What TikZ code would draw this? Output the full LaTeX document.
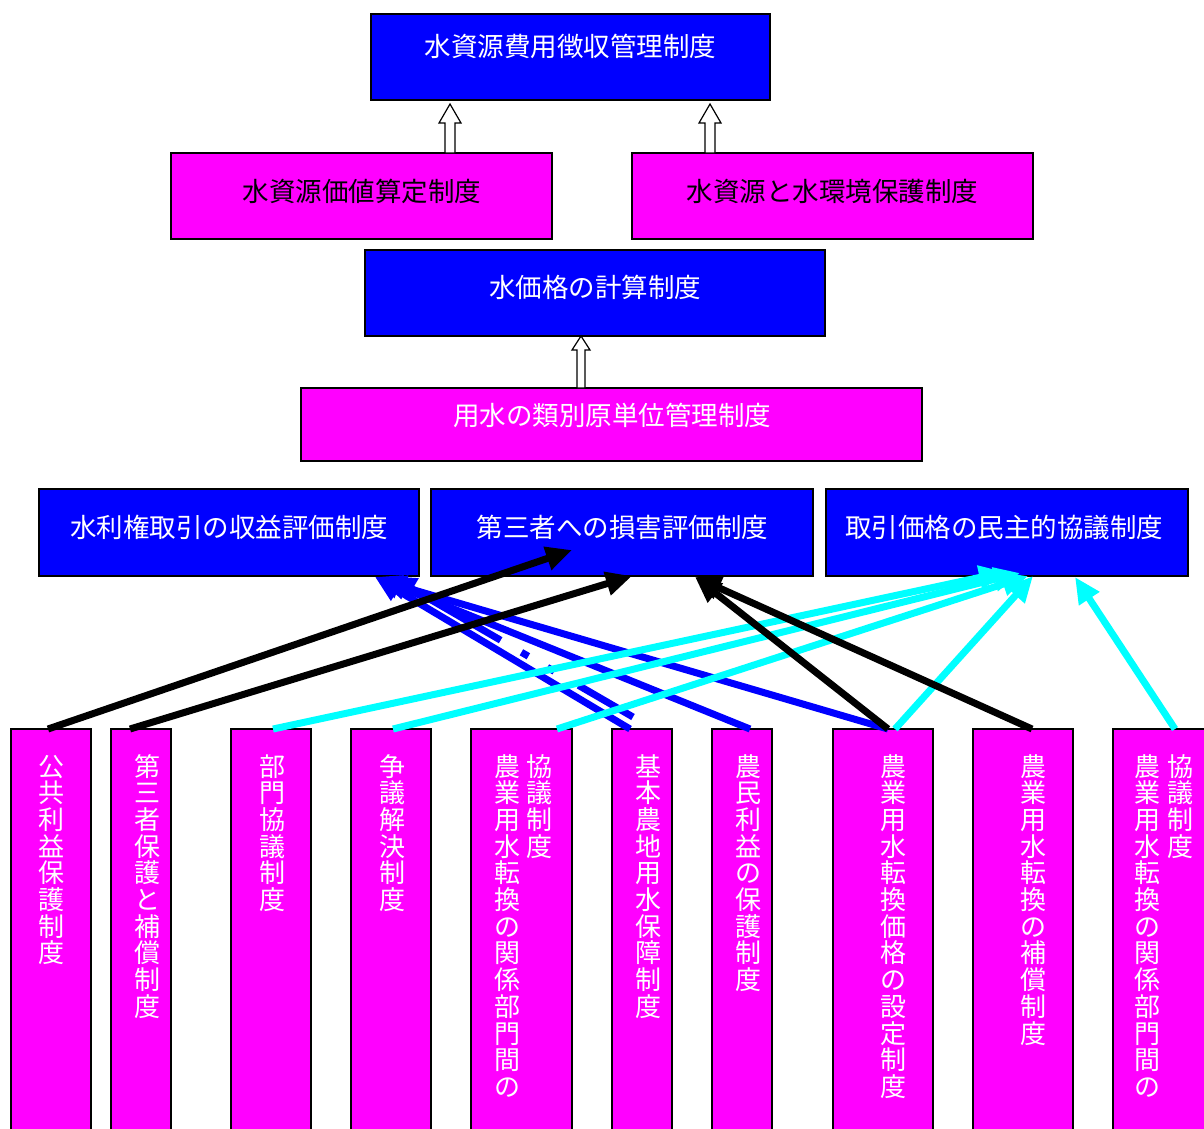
\documentclass[tikz,border=0pt]{standalone}
\usepackage{fontspec}
\newfontfamily\cjk{Noto Sans CJK JP}
\usetikzlibrary{arrows.meta,calc}

\definecolor{boxblue}{RGB}{0,0,255}
\definecolor{boxmag}{RGB}{255,0,255}
\definecolor{linkcyan}{RGB}{0,255,255}

% one column of vertically stacked characters, rows separated by \cr
\newcommand{\vcol}[1]{\vtop{\baselineskip=26.7pt\lineskiplimit=-100pt\lineskip=0pt\halign{\hfil##\hfil\cr#1\crcr}}}

% hollow upward block arrow: start, tip, shaft half width, head half width, head length
\newcommand{\hollowup}[5]{%
  \draw[hollow] let \p1=#1, \p2=#2 in
    (\x1-#3,\y1) -- (\x1-#3,\y2-#5) -- (\x1-#4,\y2-#5) -- (\x1,\y2)
    -- (\x1+#4,\y2-#5) -- (\x1+#3,\y2-#5) -- (\x1+#3,\y1) -- cycle;}

\tikzset{
  boxframe/.style={draw=black, line width=1.3pt, inner sep=0pt, outer sep=0pt, anchor=north west},
  bluebox/.style={boxframe, fill=boxblue},
  magbox/.style={boxframe, fill=boxmag},
  htext/.style={font=\cjk\fontsize{26.5}{30}\selectfont, inner sep=0pt},
  vtext/.style={font=\cjk\fontsize{26}{26.7}\selectfont, text=white, inner sep=0pt, anchor=base},
  link/.style={line width=7pt, -{Triangle[length=26pt,width=23pt]}},
  hollow/.style={draw=black, fill=white, line width=1.2pt, line join=miter},
}

\begin{document}
\begin{tikzpicture}[x=1pt, y=-1pt]
\useasboundingbox (0,0) rectangle (1204,1128);
\fill[white] (0,0) rectangle (1204,1128);
\clip (0,0) rectangle (1204,1128);

% upper hierarchy
\node[bluebox, minimum width=399pt, minimum height=86pt] (A) at (371,14) {};
\node[magbox, minimum width=381pt, minimum height=86pt] (B) at (171,153) {};
\node[magbox, minimum width=401pt, minimum height=86pt] (C) at (632,153) {};
\node[bluebox, minimum width=460pt, minimum height=86pt] (D) at (365,250) {};
\node[magbox, minimum width=621pt, minimum height=73pt] (E) at (301,388) {};

\node[htext, text=white] (At) at ($(A.center)+(0,-10.5)$) {水資源費用徴収管理制度};
\node[htext, text=black] (Bt) at ($(B.center)+(0.5,-5)$) {水資源価値算定制度};
\node[htext, text=black] (Ct) at ($(C.center)+(0,-5)$) {水資源と水環境保護制度};
\node[htext, text=white] (Dt) at ($(D.center)+(0,-5.5)$) {水価格の計算制度};
\node[htext, text=white] (Et) at ($(E.center)+(0.5,-9.5)$) {用水の類別原単位管理制度};

% evaluation and negotiation systems
\node[bluebox, minimum width=380pt, minimum height=87pt] (F) at (39,489) {};
\node[bluebox, minimum width=382pt, minimum height=87pt] (G) at (431,489) {};
\node[bluebox, minimum width=362pt, minimum height=87pt] (H) at (826,489) {};
\node[htext, text=white] (Ft) at ($(F.center)+(0,-5)$) {水利権取引の収益評価制度};
\node[htext, text=white] (Gt) at ($(G.center)+(0.5,-5)$) {第三者への損害評価制度};
\node[htext, text=white] (Ht) at ($(H.center)+(-3,-5)$) {取引価格の民主的協議制度};

% supporting systems (vertical labels)
\node[magbox, minimum width=80pt, minimum height=420pt] (p1) at (11,729) {};
\node[magbox, minimum width=60pt, minimum height=420pt] (p2) at (111,729) {};
\node[magbox, minimum width=80pt, minimum height=420pt] (p3) at (231,729) {};
\node[magbox, minimum width=80pt, minimum height=420pt] (p4) at (351,729) {};
\node[magbox, minimum width=101pt, minimum height=420pt] (p5) at (471,729) {};
\node[magbox, minimum width=60pt, minimum height=420pt] (p6) at (612,729) {};
\node[magbox, minimum width=60pt, minimum height=420pt] (p7) at (712,729) {};
\node[magbox, minimum width=100pt, minimum height=420pt] (p8) at (833,729) {};
\node[magbox, minimum width=100pt, minimum height=420pt] (p9) at (973,729) {};
\node[magbox, minimum width=100pt, minimum height=420pt] (p10) at (1113,729) {};

\node[vtext] (t1) at ($(p1.north west)+(40,47)$) {\vcol{公\cr 共\cr 利\cr 益\cr 保\cr 護\cr 制\cr 度}};
\node[vtext] (t2) at ($(p2.north west)+(36,47)$) {\vcol{第\cr 三\cr 者\cr 保\cr 護\cr と\cr 補\cr 償\cr 制\cr 度}};
\node[vtext] (t3) at ($(p3.north west)+(41,47)$) {\vcol{部\cr 門\cr 協\cr 議\cr 制\cr 度}};
\node[vtext] (t4) at ($(p4.north west)+(41,47)$) {\vcol{争\cr 議\cr 解\cr 決\cr 制\cr 度}};
\node[vtext] (t5) at ($(p5.north west)+(52.5,47)$) {\vcol{農\cr 業\cr 用\cr 水\cr 転\cr 換\cr の\cr 関\cr 係\cr 部\cr 門\cr 間\cr の}\hspace{6.5pt}\vcol{協\cr 議\cr 制\cr 度}};
\node[vtext] (t6) at ($(p6.north west)+(36,47)$) {\vcol{基\cr 本\cr 農\cr 地\cr 用\cr 水\cr 保\cr 障\cr 制\cr 度}};
\node[vtext] (t7) at ($(p7.north west)+(36,47)$) {\vcol{農\cr 民\cr 利\cr 益\cr の\cr 保\cr 護\cr 制\cr 度}};
\node[vtext] (t8) at ($(p8.north west)+(60,47)$) {\vcol{農\cr 業\cr 用\cr 水\cr 転\cr 換\cr 価\cr 格\cr の\cr 設\cr 定\cr 制\cr 度}};
\node[vtext] (t9) at ($(p9.north west)+(60,47)$) {\vcol{農\cr 業\cr 用\cr 水\cr 転\cr 換\cr の\cr 補\cr 償\cr 制\cr 度}};
\node[vtext] (t10) at ($(p10.north west)+(51,47)$) {\vcol{農\cr 業\cr 用\cr 水\cr 転\cr 換\cr の\cr 関\cr 係\cr 部\cr 門\cr 間\cr の}\hspace{6.5pt}\vcol{協\cr 議\cr 制\cr 度}};

% hollow block arrows between the upper levels
\hollowup{($(B.north west)+(279,0)$)}{($(A.south)+(0,4)$)}{5pt}{11pt}{19pt}
\hollowup{($(C.north west)+(78,0)$)}{($(A.south)+(0,4)$)}{5pt}{11pt}{19pt}
\hollowup{($(E.north west)+(280,0)$)}{($(D.south)+(0,0)$)}{4pt}{9pt}{14pt}

% blue links
\draw[link, boxblue] ($(p6.north west)+(18,0)$) -- ($(F.south west)+(336,1)$);
\draw[link, boxblue] ($(p7.north west)+(38,0)$) -- ($(F.south west)+(336,1)$);
\draw[link, boxblue] ($(p8.north west)+(55,0)$) -- ($(F.south west)+(341,4)$);
\draw[link, boxblue, dash pattern=on 63pt off 28pt on 8pt off 22pt on 8pt off 24pt on 400pt]
  ($(p6.north west)+(21,-12)$) -- ($(F.south west)+(351,0)$);

% cyan links
\draw[link, linkcyan] ($(p3.north west)+(42,0)$) -- ($(H.south west)+(179,-4)$);
\draw[link, linkcyan] ($(p4.north west)+(42,0)$) -- ($(H.south west)+(194,-3)$);
\draw[link, linkcyan] ($(p5.north west)+(86,0)$) -- ($(H.south west)+(202,0)$);
\draw[link, linkcyan] ($(p8.north west)+(62,0)$) -- ($(H.south west)+(207,0)$);
\draw[link, linkcyan] ($(p10.north west)+(62,0)$) -- ($(H.south west)+(249,1)$);

% black links
\draw[link, black] ($(p1.north west)+(37,0)$) -- ($(G.south west)+(141,-26)$);
\draw[link, black] ($(p2.north west)+(19,0)$) -- ($(G.south west)+(201,0)$);
\draw[link, black] ($(p8.north west)+(55,0)$) -- ($(G.south west)+(264,1)$);
\draw[link, black] ($(p9.north west)+(59,0)$) -- ($(G.south west)+(264,1)$);
\end{tikzpicture}
\end{document}
